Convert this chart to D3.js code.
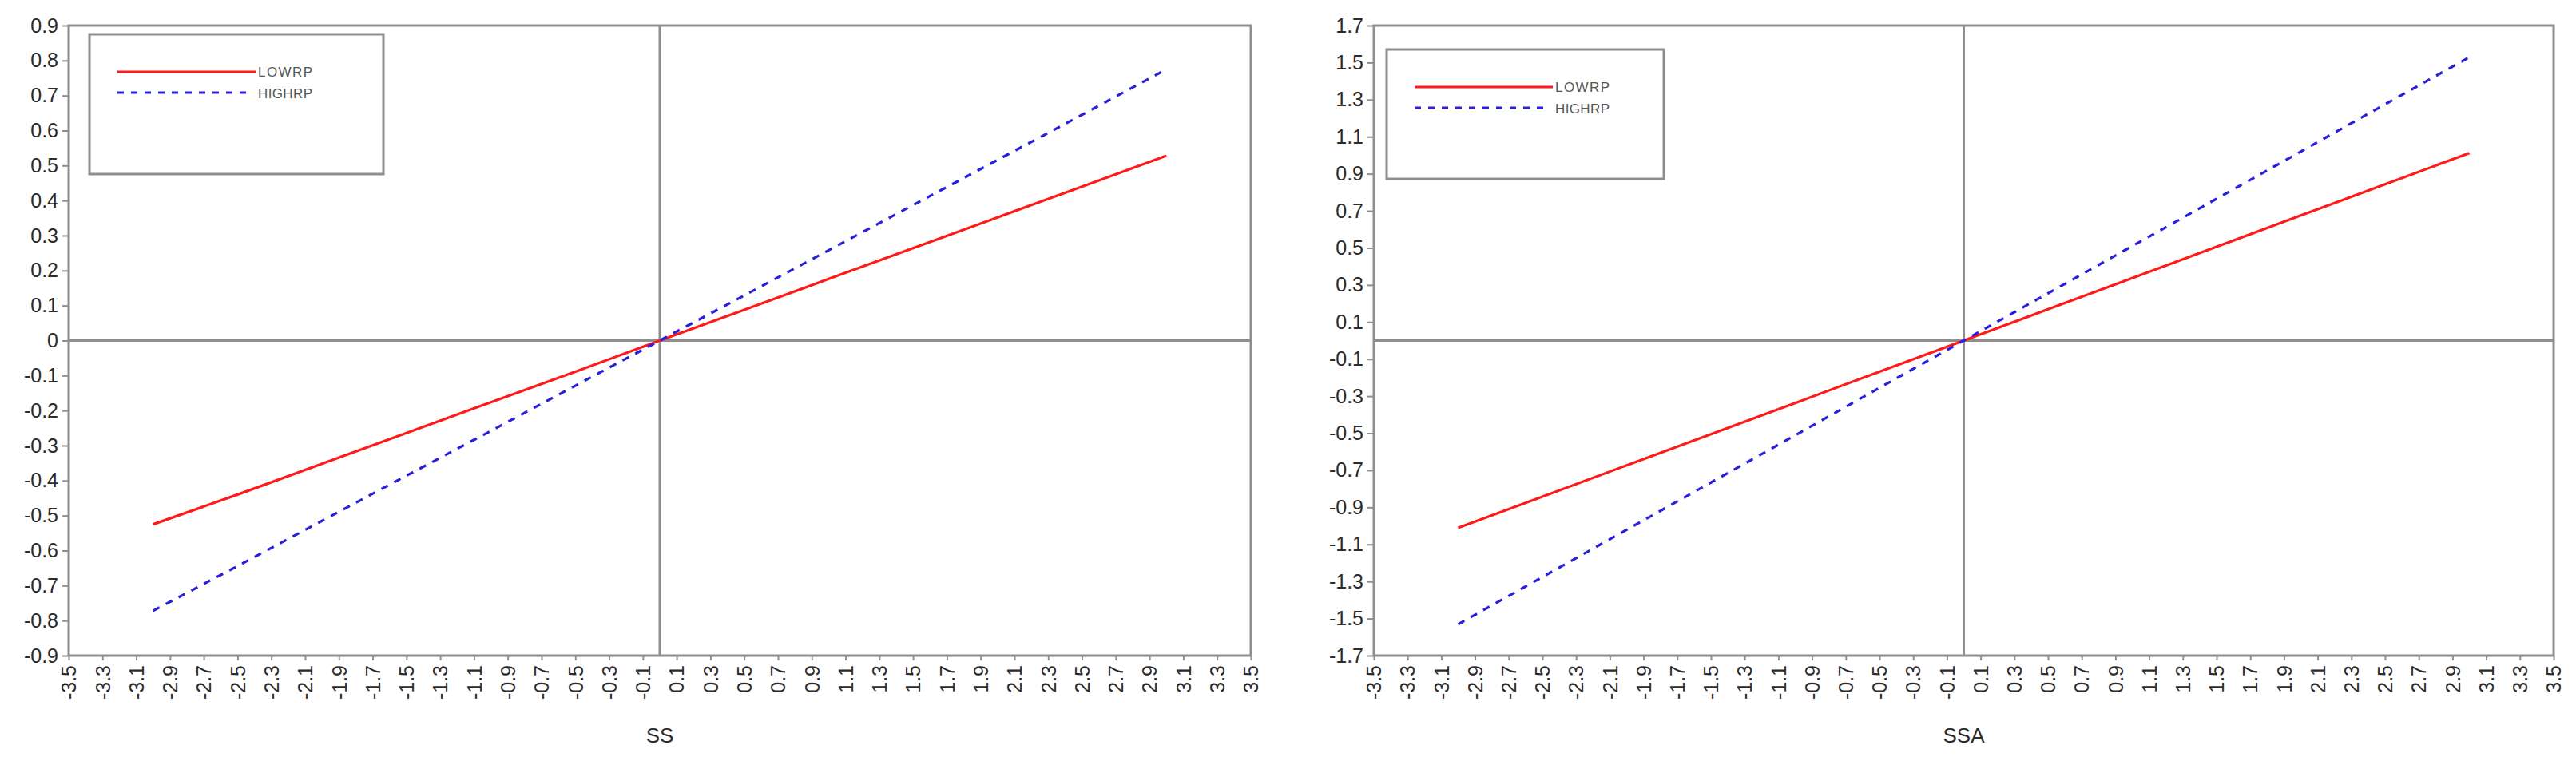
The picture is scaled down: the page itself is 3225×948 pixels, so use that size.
<!DOCTYPE html>
<html>
<head>
<meta charset="utf-8">
<script src="https://cdn.jsdelivr.net/npm/d3@7/dist/d3.min.js"></script>
<style>
  html, body { margin: 0; padding: 0; background: #ffffff; }
  svg { display: block; font-family: "Liberation Sans", Arial, sans-serif; }
</style>
</head>
<body>
<svg id="chart" width="3225" height="948"></svg>
<script>
// ---------- DATA ----------
const xValues = [-3.0, -2.5, -2.0, -1.5, -1.0, -0.5, 0.0, 0.5, 1.0, 1.5, 2.0, 2.5, 3.0];

// Left panel (SS)
const ssLowRP  = [-0.525, -0.440, -0.352, -0.264, -0.176, -0.089, 0.0, 0.088, 0.176, 0.264, 0.352, 0.440, 0.528];
const ssHighRP = [-0.772, -0.644, -0.515, -0.386, -0.258, -0.129, 0.0, 0.129, 0.258, 0.387, 0.516, 0.645, 0.775];

// Right panel (SSA)
const ssaLowRP  = [-1.010, -0.842, -0.673, -0.505, -0.337, -0.168, 0.0, 0.169, 0.337, 0.506, 0.675, 0.843, 1.012];
const ssaHighRP = [-1.531, -1.276, -1.021, -0.766, -0.511, -0.255, 0.0, 0.255, 0.510, 0.765, 1.020, 1.275, 1.529];

const xTicks = d3.range(-35, 36, 2).map(v => v / 10);                 // -3.5 ... 3.5
const ssYTicks = d3.range(-9, 10, 1).map(v => v / 10);                // -0.9 ... 0.9
const ssaYTicks = d3.range(-17, 18, 2).map(v => v / 10);              // -1.7 ... 1.7

const seriesNames = ["LOWRP", "HIGHRP"];
const xTitles = ["SS", "SSA"];

// ---------- DRAW ----------
const svg = d3.select("#chart");
const fmt = v => {
  const r = Math.round(v * 10) / 10;
  return r === 0 ? "0" : String(r);
};

const gray = "#8e8e8e";
const textColor = "#2b2b2b";

function panel(cfg) {
  const g = svg.append("g");
  const x = d3.scaleLinear().domain([-3.5, 3.5]).range([cfg.left, cfg.right]);
  const y = d3.scaleLinear().domain(cfg.yDomain).range([cfg.bottom, cfg.top]);

  // zero lines
  g.append("line").attr("x1", x(0)).attr("x2", x(0)).attr("y1", cfg.top).attr("y2", cfg.bottom)
    .attr("stroke", gray).attr("stroke-width", 3);
  g.append("line").attr("x1", cfg.left).attr("x2", cfg.right).attr("y1", y(0)).attr("y2", y(0))
    .attr("stroke", gray).attr("stroke-width", 3);

  // frame
  g.append("rect").attr("x", cfg.left).attr("y", cfg.top)
    .attr("width", cfg.right - cfg.left).attr("height", cfg.bottom - cfg.top)
    .attr("fill", "none").attr("stroke", gray).attr("stroke-width", 3);

  // y axis
  const ya = d3.axisLeft(y).tickValues(cfg.yTicks).tickFormat(fmt).tickSize(8).tickPadding(5);
  const yg = g.append("g").attr("transform", `translate(${cfg.left},0)`).call(ya);
  yg.select(".domain").remove();
  yg.selectAll(".tick line").attr("stroke", gray).attr("stroke-width", 2);
  yg.selectAll(".tick text").attr("fill", textColor).attr("font-size", 25)
    .attr("font-family", '"Liberation Sans", Arial, sans-serif');

  // x axis
  const xa = d3.axisBottom(x).tickValues(xTicks).tickFormat(fmt).tickSize(6).tickPadding(0);
  const xg = g.append("g").attr("transform", `translate(0,${cfg.bottom})`).call(xa);
  xg.select(".domain").remove();
  xg.selectAll(".tick line").attr("stroke", gray).attr("stroke-width", 2);
  xg.selectAll(".tick text")
    .attr("fill", textColor).attr("font-size", 25)
    .attr("font-family", '"Liberation Sans", Arial, sans-serif')
    .attr("text-anchor", "end")
    .attr("dy", "0.35em")
    .attr("transform", "translate(0,12) rotate(-90)")
    .attr("x", 0).attr("y", 0);

  // x title
  g.append("text").attr("x", (cfg.left + cfg.right) / 2).attr("y", 930)
    .attr("text-anchor", "middle").attr("font-size", 26).attr("fill", textColor)
    .text(cfg.title);

  // lines
  const line = d3.line().x((d, i) => x(xValues[i])).y(d => y(d));
  g.append("path").datum(cfg.low).attr("d", line).attr("fill", "none")
    .attr("stroke", "#ff1a1a").attr("stroke-width", 3.2);
  g.append("path").datum(cfg.high).attr("d", line).attr("fill", "none")
    .attr("stroke", "#2a1fdc").attr("stroke-width", 3.2).attr("stroke-dasharray", "9,9");

  // legend
  const L = cfg.legend;
  g.append("rect").attr("x", L.x).attr("y", L.y).attr("width", L.w).attr("height", L.h)
    .attr("fill", "#ffffff").attr("stroke", gray).attr("stroke-width", 3);
  g.append("line").attr("x1", L.x + 35).attr("x2", L.x + 208).attr("y1", L.y + 47).attr("y2", L.y + 47)
    .attr("stroke", "#ff1a1a").attr("stroke-width", 3.2);
  g.append("line").attr("x1", L.x + 35).attr("x2", L.x + 200).attr("y1", L.y + 73).attr("y2", L.y + 73)
    .attr("stroke", "#2a1fdc").attr("stroke-width", 3.2).attr("stroke-dasharray", "8,9");
  g.append("text").attr("x", L.x + 211).attr("y", L.y + 47).attr("dy", "0.36em")
    .attr("font-size", 17).attr("fill", "#555").attr("textLength", 68).text(seriesNames[0]);
  g.append("text").attr("x", L.x + 211).attr("y", L.y + 74).attr("dy", "0.36em")
    .attr("font-size", 17).attr("fill", "#555").attr("textLength", 68).text(seriesNames[1]);
}

panel({
  left: 86, right: 1566, top: 32, bottom: 821,
  yDomain: [-0.9, 0.9], yTicks: ssYTicks,
  low: ssLowRP, high: ssHighRP, title: xTitles[0],
  legend: { x: 112, y: 43, w: 368, h: 175 }
});

panel({
  left: 1720, right: 3197, top: 32, bottom: 821,
  yDomain: [-1.7, 1.7], yTicks: ssaYTicks,
  low: ssaLowRP, high: ssaHighRP, title: xTitles[1],
  legend: { x: 1736, y: 62, w: 347, h: 162 }
});
</script>
</body>
</html>
